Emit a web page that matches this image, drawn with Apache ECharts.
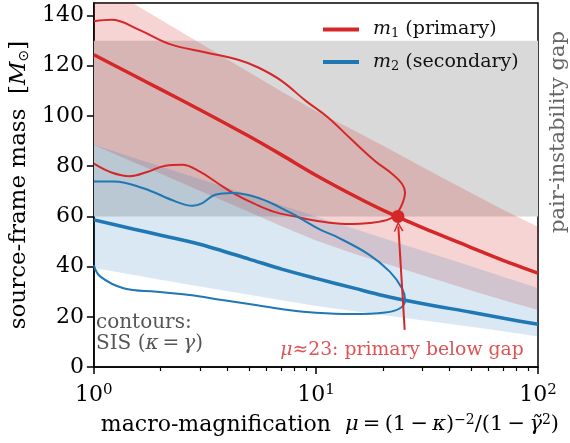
<!DOCTYPE html>
<html><head><meta charset="utf-8">
<script src="https://cdn.jsdelivr.net/npm/echarts@6/dist/echarts.min.js"></script>
<style>html,body{margin:0;padding:0;background:#fff}#c{width:570px;height:443px}</style>
</head><body><div id="c"></div>
<script>
// ---- data ----
const muGrid   = [1, 1.5, 2, 3, 5, 7, 10, 15, 20, 30, 50, 70, 100];
const m1Median = [124.4, 116.3, 110.6, 102.5, 91.9, 84.5, 76.4, 68.0, 62.5, 55.6, 47.6, 42.4, 37.4];
const m1Upper  = [154.0, 144.9, 138.3, 129.1, 117.4, 109.7, 102.0, 94.0, 88.2, 79.8, 69.3, 62.5, 55.9];
const m1Lower  = [88.5, 81.7, 77.0, 70.2, 61.7, 56.1, 50.4, 45.0, 41.5, 36.6, 30.5, 26.6, 22.7];
const m2Median = [58.6, 55.0, 52.5, 48.9, 43.0, 39.0, 35.3, 31.3, 28.5, 25.3, 21.8, 19.4, 17.0];
const m2Upper  = [88.5, 83.5, 79.9, 74.9, 68.6, 64.4, 60.0, 55.0, 51.4, 46.4, 40.1, 35.9, 31.5];
const m2Lower  = [39.4, 36.7, 34.8, 32.1, 28.8, 26.6, 24.3, 22.2, 20.7, 18.6, 16.0, 14.2, 12.1];
const m1Contour = [[1.00,137.7],[1.2,138.3],[1.6,134.3],[2.2,128.6],[3.2,125.3],[4.5,122.3],[5.5,119.3],[7.0,114.0],[9.0,106.0],[11.3,99.5],[14.5,90.5],[18.5,82.0],[22.0,77.0],[24.4,73.0],[25.2,69.5],[24.6,65.5],[23.4,61.8],[21.5,59.0],[18.0,57.5],[13.5,57.0],[10.0,58.3],[8.0,60.0],[6.5,61.8],[5.3,65.0],[4.3,69.0],[3.6,73.3],[3.0,77.8],[2.5,80.6],[2.1,80.2],[1.75,77.8],[1.45,76.0],[1.2,77.5],[1.0,81.0]];
const m2Contour = [[1.00,73.9],[1.23,73.9],[1.67,71.2],[2.34,65.9],[2.78,64.2],[3.08,65.3],[3.52,68.6],[4.19,69.3],[5.52,67.3],[7.74,61.3],[8.75,58.6],[10.5,54.6],[12.3,52.0],[17.4,44.7],[21.5,38.0],[24.4,31.4],[25.2,26.7],[23.9,23.4],[20.5,21.7],[14.6,21.1],[10.0,21.6],[7.52,22.7],[5.36,24.7],[3.78,26.7],[2.70,28.7],[1.92,30.0],[1.36,31.4],[1.07,36.0],[1.00,40.5]];
const gapBounds = [60, 130];
const markPointData = [23.4, 60];
const arrowStart = [25.1, 14.8];
const arrowEnd = [23.5, 56];
const annotationAt = [24.4, 6.8];
const xMajorTicks = [1, 10, 100];
const xMinorTicks = [2,3,4,5,6,7,8,9,20,30,40,50,60,70,80,90];
const yTicks = [0, 20, 40, 60, 80, 100, 120, 140];

// ---- chart ----
const F = 'DejaVu Serif';
const RED = '#d62728', BLUE = '#1f77b4';
const pair = (a) => muGrid.map((m, i) => [m, a[i]]);
const chart = echarts.init(document.getElementById('c'), null, {renderer: 'canvas'});
const chevron = 'path://M0,10 L5,0 L10,10 L8.4,10 L5,3.2 L1.6,10 Z';
const TS = '\u2009';

function band(upper, lower, color) {
  return {
    type: 'custom', silent: true, z: 2,
    data: muGrid.map((m, i) => [m, lower[i], upper[i]]),
    encode: {x: 0, y: [1, 2]},
    renderItem: (params, api) => {
      if (params.dataIndex !== 0) return null;
      const pts = [];
      for (let i = 0; i < muGrid.length; i++) pts.push(api.coord([muGrid[i], upper[i]]));
      for (let i = muGrid.length - 1; i >= 0; i--) pts.push(api.coord([muGrid[i], lower[i]]));
      const cs = params.coordSys;
      return {type: 'group',
        clipPath: {type: 'rect', shape: {x: cs.x, y: cs.y, width: cs.width, height: cs.height}},
        children: [{type: 'polygon', shape: {points: pts}, style: {fill: color}}]};
    }
  };
}

chart.setOption({
  animation: false,
  backgroundColor: '#fff',
  grid: {left: 88, right: 32, top: 3, bottom: 76, show: true, borderColor: '#000', borderWidth: 1.5, backgroundColor: 'transparent'},
  legend: {
    data: ['m1', 'm2'], orient: 'vertical', left: 323, top: 20, padding: 0, itemWidth: 36, itemHeight: 4, itemGap: 12, icon: 'rect',
    formatter: n => n === 'm1' ? '{i|m}{s|1}{t| (primary)}' : '{i|m}{s|2}{t| (secondary)}',
    textStyle: {padding: [0, 0, 0, 9], rich: {
      t: {fontFamily: F, fontSize: 19, color: '#111'},
      i: {fontFamily: F, fontStyle: 'italic', fontSize: 19, color: '#111'},
      s: {fontFamily: F, fontSize: 13, color: '#111', verticalAlign: 'bottom', padding: [9, 0, 0, 0]}
    }}
  },
  xAxis: [{
    type: 'log', logBase: 10, min: 1, max: 100, position: 'bottom',
    axisLine: {show: true, lineStyle: {color: '#000', width: 1.5}},
    axisTick: {show: true, customValues: xMajorTicks, length: 7, lineStyle: {color: '#000', width: 1.5}},
    axisLabel: {customValues: xMajorTicks, margin: 16,
      formatter: v => '{a|10}{e|' + Math.round(Math.log10(v)) + '}',
      rich: {a: {fontFamily: F, fontSize: 22, color: '#000'},
             e: {fontFamily: F, fontSize: 15, color: '#000', verticalAlign: 'top', padding: [0, 0, 10, 0]}}},
    splitLine: {show: false},
    name: '{t|macro-magnification  }{i|μ}{f|' + TS + '=' + TS + '(1' + TS + '−' + TS + '}{i|κ}{f|)}{e|−2}{f|/(1' + TS + '−' + TS + '}{i|γ̃}{e|2}{f|)}',
    nameLocation: 'middle', nameGap: 46,
    nameTextStyle: {padding: [0, 0, 0, 28], rich: {
      t: {fontFamily: F, fontSize: 22, color: '#000'},
      f: {fontFamily: F, fontSize: 21, color: '#000'},
      i: {fontFamily: F, fontStyle: 'italic', fontSize: 21, color: '#000'},
      e: {fontFamily: F, fontSize: 14, color: '#000', verticalAlign: 'top', padding: [0, 0, 10, 0]}
    }}
  }, {
    type: 'log', logBase: 10, min: 1, max: 100, position: 'bottom', gridIndex: 0,
    axisLine: {show: false},
    axisTick: {show: true, customValues: xMinorTicks, length: 4, lineStyle: {color: '#000', width: 1.2}},
    axisLabel: {show: false}, splitLine: {show: false}
  }],
  yAxis: {
    type: 'value', min: 0, max: 145,
    axisLine: {show: true, lineStyle: {color: '#000', width: 1.5}},
    axisTick: {show: true, customValues: yTicks, length: 7, lineStyle: {color: '#000', width: 1.5}},
    axisLabel: {customValues: yTicks, margin: 10, fontFamily: F, fontSize: 22, color: '#000'},
    splitLine: {show: false},
    name: '{t|source-frame mass  [}{i|M}{s|⊙}{t|]}',
    nameLocation: 'middle', nameGap: 61,
    nameTextStyle: {rich: {
      t: {fontFamily: F, fontSize: 23, color: '#000'},
      i: {fontFamily: F, fontStyle: 'italic', fontSize: 23, color: '#000'},
      s: {fontFamily: 'DejaVu Sans', fontSize: 14, color: '#000', verticalAlign: 'bottom', padding: [8, 0, 0, 0]}
    }}
  },
  series: [
    {name: 'gap', type: 'line', data: [[1, gapBounds[0]], [100, gapBounds[0]]], symbol: 'none', lineStyle: {opacity: 0}, silent: true, z: 1,
     markArea: {silent: true, itemStyle: {color: '#d9d9d9'}, data: [[{yAxis: gapBounds[0]}, {yAxis: gapBounds[1]}]]}},
    band(m1Upper, m1Lower, 'rgba(214,39,40,0.2)'),
    band(m2Upper, m2Lower, 'rgba(31,119,180,0.17)'),
    {name: 'm1c', type: 'line', data: m1Contour, symbol: 'none', smooth: 0.4, lineStyle: {color: RED, width: 2}, z: 3},
    {name: 'm2c', type: 'line', data: m2Contour, symbol: 'none', smooth: 0.4, lineStyle: {color: BLUE, width: 2}, z: 3},
    {name: 'm1', type: 'line', data: pair(m1Median), symbol: 'none', smooth: 0.3, color: RED, lineStyle: {color: RED, width: 3.5}, z: 4},
    {name: 'm2', type: 'line', data: pair(m2Median), symbol: 'none', smooth: 0.3, color: BLUE, lineStyle: {color: BLUE, width: 3.5}, z: 4},
    {name: 'arrow', type: 'lines', coordinateSystem: 'cartesian2d', z: 5,
     data: [{coords: [arrowStart, arrowEnd]}], symbol: ['none', chevron], symbolSize: [8, 10],
     lineStyle: {color: RED, width: 2, opacity: 1}},
    {name: 'dot', type: 'scatter', data: [markPointData], symbolSize: 13, itemStyle: {color: RED, opacity: 1}, z: 6},
    {name: 'note', type: 'scatter', data: [annotationAt], symbolSize: 1, itemStyle: {color: 'rgba(0,0,0,0)'}, z: 6,
     label: {show: true, position: 'inside', align: 'center', verticalAlign: 'middle',
       formatter: '{i|μ}{t|≈23: primary below gap}',
       rich: {t: {fontFamily: F, fontSize: 18.8, color: RED}, i: {fontFamily: F, fontStyle: 'italic', fontSize: 18.8, color: RED}}}}
  ],
  graphic: [
    {type: 'text', left: 96, top: 313, style: {
      text: '{t|contours:}\n{t|SIS (}{i|κ}{t|' + TS + '=' + TS + '}{i|γ}{t|)}',
      rich: {t: {fontFamily: F, fontSize: 20, fill: '#555', lineHeight: 21},
             i: {fontFamily: F, fontStyle: 'italic', fontSize: 20, fill: '#555', lineHeight: 21}}}},
    {type: 'text', x: 559, y: 132, rotation: Math.PI / 2, style: {
      text: 'pair-instability gap', fontFamily: F, fontSize: 21, fill: '#666', align: 'center', verticalAlign: 'middle'}}
  ]
});
</script></body></html>
